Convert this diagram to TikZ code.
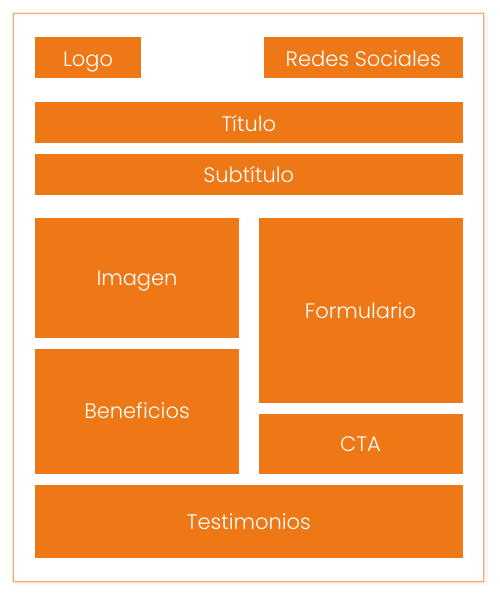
\documentclass[tikz,border=0pt]{standalone}
\usepackage{fontspec}
\setmainfont{Poppins}[UprightFont=* Light]
\definecolor{block}{HTML}{EE7716}
\definecolor{pageedge}{HTML}{F0AD7A}
\begin{document}
\begin{tikzpicture}[x=1pt,y=-1pt,
  block/.style={fill=block, draw=none},
  label/.style={text=white, anchor=base, inner sep=0pt, font=\fontsize{21}{24}\selectfont}]
  \useasboundingbox (0,0) rectangle (500,598);
  \fill[white] (0,0) rectangle (500,598);
  % faint shadow below and right of the sheet
  \fill[black!6] (16,17) rectangle (486.5,584.5);
  \fill[black!3] (15,16) rectangle (488,586);
  % sheet outline as a filled ring
  \fill[pageedge, even odd rule] (12.7,12.7) rectangle (484.3,582.3)
                                 (14.3,14.3) rectangle (482.7,580.7);
  \fill[white] (14.3,14.3) rectangle (482.7,580.7);
  % header row
  \path[block] (35,37) rectangle (141,78);
  \node[label] (logo) at (88,66) {Logo};
  \path[block] (264,37) rectangle (462.5,78);
  \node[label] (redes) at (363.2,66) {Redes Sociales};
  % title rows
  \path[block] (35,102) rectangle (462.5,143);
  \node[label] (titulo) at (248.7,131) {Título};
  \path[block] (35,154) rectangle (462.5,195);
  \node[label] (subtitulo) at (248.7,182.5) {Subtítulo};
  % left column
  \path[block] (35,218) rectangle (239,338);
  \node[label] (imagen) at (137,285.7) {Imagen};
  \path[block] (35,349) rectangle (239,473.5);
  \node[label] (beneficios) at (137,418.5) {Beneficios};
  % right column
  \path[block] (258.5,218) rectangle (462.5,403);
  \node[label] (formulario) at (360.5,318) {Formulario};
  \path[block] (258.5,414) rectangle (462.5,473.5);
  \node[label] (cta) at (360.5,451) {CTA};
  % footer
  \path[block] (35,485) rectangle (462.5,557.5);
  \node[label] (testimonios) at (248.7,529.3) {Testimonios};
\end{tikzpicture}
\end{document}
